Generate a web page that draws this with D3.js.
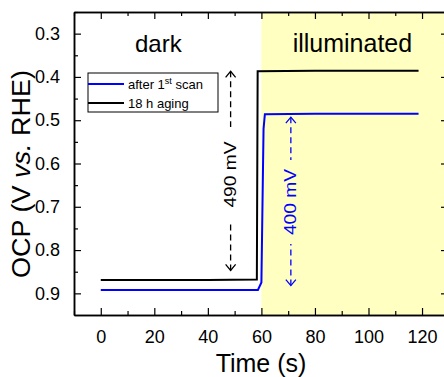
<!DOCTYPE html>
<html>
<head>
<meta charset="utf-8">
<script src="https://cdn.jsdelivr.net/npm/d3@7"></script>
<style>
  body { margin: 0; background: #fff; }
  svg { display: block; font-family: Arial, "Liberation Sans", sans-serif; }
</style>
</head>
<body>
<div class="chart"></div>
<script>
// data
const timeBlack = [0, 20, 40, 58.3, 58.6, 80, 100, 118.7];
const ocpBlack = [0.869, 0.869, 0.869, 0.868, 0.387, 0.386, 0.386, 0.386];
const timeBlue = [0, 20, 40, 58.7, 60.0, 60.8, 61.3, 80, 100, 118.7];
const ocpBlue = [0.892, 0.892, 0.892, 0.892, 0.875, 0.52, 0.486, 0.485, 0.485, 0.485];
const xTicks = [0, 20, 40, 60, 80, 100, 120];
const yTicks = [0.3, 0.4, 0.5, 0.6, 0.7, 0.8, 0.9];
const lightStart = 60;
const seriesNames = ["after 1", "18 h aging"];
const arrowBlack = {t: 48.5, from: 0.387, to: 0.847, label: "490 mV"};
const arrowBlue = {t: 71, from: 0.493, to: 0.882, label: "400 mV"};

// Mesures
const size = {width: 444, height: 377};
const margin = {top: 12, left: 74, right: -4, bottom: 62};
const innerW = size.width - margin.left - margin.right;
const innerH = size.height - margin.top - margin.bottom;

const svg = d3.select(".chart")
  .append("svg")
  .attr("width", size.width)
  .attr("height", size.height);

const g = svg.append("g")
  .attr("transform", `translate(${margin.left},${margin.top})`);

const x = d3.scaleLinear().domain([-10, 129.7]).range([0, innerW]);
const y = d3.scaleLinear().domain([0.25, 0.95]).range([0, innerH]);

// illuminated area
g.append("rect")
  .attr("x", x(lightStart))
  .attr("y", 0)
  .attr("width", innerW - x(lightStart))
  .attr("height", innerH)
  .attr("fill", "#ffffc2");

// axes (ticks inward)
const minorX = d3.range(-10, 131, 10).filter(d => d % 20 !== 0);
const minorY = [0.25, 0.35, 0.45, 0.55, 0.65, 0.75, 0.85];

const axisStyle = (sel) => {
  sel.selectAll(".domain").attr("stroke", "#000").attr("stroke-width", 1.5);
  sel.selectAll(".tick line").attr("stroke", "#000").attr("stroke-width", 1.2);
  sel.selectAll("text").attr("font-size", 18).attr("fill", "#000")
    .attr("font-family", "Arial, 'Liberation Sans', sans-serif");
};

g.append("g")
  .attr("transform", `translate(0,${innerH})`)
  .call(d3.axisBottom(x).tickValues(xTicks).tickSize(-7).tickPadding(15).tickSizeOuter(0))
  .call(axisStyle);
g.append("g")
  .attr("transform", `translate(0,${innerH})`)
  .call(d3.axisBottom(x).tickValues(minorX).tickSize(-4).tickFormat("").tickSizeOuter(0))
  .call(axisStyle);
g.append("g")
  .call(d3.axisTop(x).tickValues(xTicks).tickSize(-7).tickFormat("").tickSizeOuter(0))
  .call(axisStyle);
g.append("g")
  .call(d3.axisTop(x).tickValues(minorX).tickSize(-4).tickFormat("").tickSizeOuter(0))
  .call(axisStyle);

g.append("g")
  .call(d3.axisLeft(y).tickValues(yTicks).tickSize(-7).tickPadding(14).tickFormat(d3.format(".1f")).tickSizeOuter(0))
  .call(axisStyle);
g.append("g")
  .call(d3.axisLeft(y).tickValues(minorY).tickSize(-4).tickFormat("").tickSizeOuter(0))
  .call(axisStyle);
g.append("g")
  .attr("transform", `translate(${innerW},0)`)
  .call(d3.axisRight(y).tickValues(yTicks).tickSize(-7).tickFormat("").tickSizeOuter(0))
  .call(axisStyle);

// lines
const line = d3.line().x(d => x(d[0])).y(d => y(d[1]));
g.append("path")
  .datum(d3.zip(timeBlack, ocpBlack))
  .attr("d", line)
  .attr("fill", "none")
  .attr("stroke", "#000")
  .attr("stroke-width", 2);
g.append("path")
  .datum(d3.zip(timeBlue, ocpBlue))
  .attr("d", line)
  .attr("fill", "none")
  .attr("stroke", "#0000ff")
  .attr("stroke-width", 2);

// dashed double arrows with labels
const arrow = (a, color, gapTop, gapBot) => {
  const ax = x(a.t), y1 = y(a.from), y2 = y(a.to);
  const mid = (gapTop + gapBot) / 2;
  g.append("line").attr("x1", ax).attr("x2", ax).attr("y1", y1).attr("y2", gapTop)
    .attr("stroke", color).attr("stroke-width", 1.3).attr("stroke-dasharray", "6,4");
  g.append("line").attr("x1", ax).attr("x2", ax).attr("y1", y2).attr("y2", gapBot)
    .attr("stroke", color).attr("stroke-width", 1.3).attr("stroke-dasharray", "6,4");
  g.append("path")
    .attr("d", `M${ax - 5},${y1 + 6}L${ax},${y1}L${ax + 5},${y1 + 6}`)
    .attr("fill", "none").attr("stroke", color).attr("stroke-width", 1.3);
  g.append("path")
    .attr("d", `M${ax - 5},${y2 - 6}L${ax},${y2}L${ax + 5},${y2 - 6}`)
    .attr("fill", "none").attr("stroke", color).attr("stroke-width", 1.3);
  g.append("text")
    .attr("transform", `translate(${ax + 5.5},${mid}) rotate(-90) scale(1.2,1)`)
    .attr("text-anchor", "middle")
    .attr("font-size", 16)
    .attr("fill", color)
    .text(a.label);
};
arrow(arrowBlack, "#000", 127 - margin.top, 222 - margin.top);
arrow(arrowBlue, "#0000ff", 160 - margin.top, 244 - margin.top);

// region labels
g.append("text")
  .attr("x", x(21.5)).attr("y", 52 - margin.top)
  .attr("text-anchor", "middle").attr("font-size", 24)
  .text("dark");
g.append("text")
  .attr("x", x(94)).attr("y", 52 - margin.top)
  .attr("text-anchor", "middle").attr("font-size", 25)
  .text("illuminated");

// legend
const legend = svg.append("g").attr("transform", "translate(88,73)");
legend.append("rect")
  .attr("width", 130).attr("height", 39)
  .attr("fill", "#fff").attr("stroke", "#000").attr("stroke-width", 1);
const legColors = ["#0000ff", "#000"];
legColors.forEach((c, i) => {
  legend.append("line")
    .attr("x1", 0).attr("x2", 36)
    .attr("y1", 11 + i * 19).attr("y2", 11 + i * 19)
    .attr("stroke", c).attr("stroke-width", 2);
});
const t1 = legend.append("text").attr("x", 40).attr("y", 15.5).attr("font-size", 13);
t1.append("tspan").text(seriesNames[0]);
t1.append("tspan").attr("dy", -5).attr("font-size", 9).text("st");
t1.append("tspan").attr("dy", 5).text(" scan");
legend.append("text").attr("x", 40).attr("y", 34.5).attr("font-size", 13).text(seriesNames[1]);

// axis titles
svg.append("text")
  .attr("x", 261).attr("y", 372)
  .attr("text-anchor", "middle").attr("font-size", 25)
  .text("Time (s)");
const yt = svg.append("text")
  .attr("transform", "translate(30,174) rotate(-90) scale(1.08,1)")
  .attr("text-anchor", "middle").attr("font-size", 25);
yt.append("tspan").text("OCP (V ");
yt.append("tspan").attr("font-style", "italic").text("vs.");
yt.append("tspan").text(" RHE)");
</script>
</body>
</html>
